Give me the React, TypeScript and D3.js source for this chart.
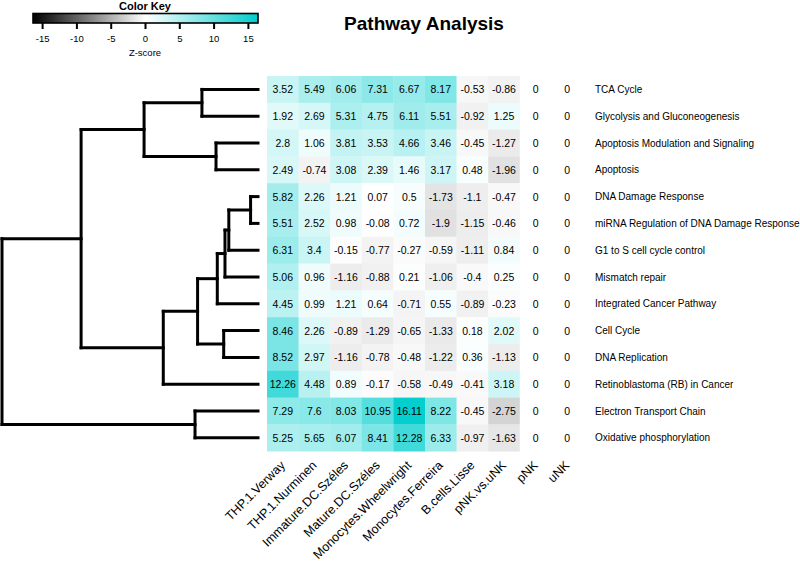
import React, { useEffect, useRef } from "react";
import * as d3 from "d3";

// pathways (rows, top to bottom as drawn)
const pathways = [
  "TCA Cycle",
  "Glycolysis and Gluconeogenesis",
  "Apoptosis Modulation and Signaling",
  "Apoptosis",
  "DNA Damage Response",
  "miRNA Regulation of DNA Damage Response",
  "G1 to S cell cycle control",
  "Mismatch repair",
  "Integrated Cancer Pathway",
  "Cell Cycle",
  "DNA Replication",
  "Retinoblastoma (RB) in Cancer",
  "Electron Transport Chain",
  "Oxidative phosphorylation",
];

// datasets (columns)
const datasets = [
  "THP.1.Verway",
  "THP.1.Nurminen",
  "Immature.DC.Széles",
  "Mature.DC.Széles",
  "Monocytes.Wheelwright",
  "Monocytes.Ferreira",
  "B.cells.Lisse",
  "pNK.vs.uNK",
  "pNK",
  "uNK",
];

// z-scores, one array per pathway
const tcaCycle = [3.52, 5.49, 6.06, 7.31, 6.67, 8.17, -0.53, -0.86, 0, 0];
const glycolysis = [1.92, 2.69, 5.31, 4.75, 6.11, 5.51, -0.92, 1.25, 0, 0];
const apoptosisModulation = [2.8, 1.06, 3.81, 3.53, 4.66, 3.46, -0.45, -1.27, 0, 0];
const apoptosis = [2.49, -0.74, 3.08, 2.39, 1.46, 3.17, 0.48, -1.96, 0, 0];
const dnaDamage = [5.82, 2.26, 1.21, 0.07, 0.5, -1.73, -1.1, -0.47, 0, 0];
const mirnaDnaDamage = [5.51, 2.52, 0.98, -0.08, 0.72, -1.9, -1.15, -0.46, 0, 0];
const g1ToS = [6.31, 3.4, -0.15, -0.77, -0.27, -0.59, -1.11, 0.84, 0, 0];
const mismatchRepair = [5.06, 0.96, -1.16, -0.88, 0.21, -1.06, -0.4, 0.25, 0, 0];
const integratedCancer = [4.45, 0.99, 1.21, 0.64, -0.71, 0.55, -0.89, -0.23, 0, 0];
const cellCycle = [8.46, 2.26, -0.89, -1.29, -0.65, -1.33, 0.18, 2.02, 0, 0];
const dnaReplication = [8.52, 2.97, -1.16, -0.78, -0.48, -1.22, 0.36, -1.13, 0, 0];
const retinoblastoma = [12.26, 4.48, 0.89, -0.17, -0.58, -0.49, -0.41, 3.18, 0, 0];
const electronTransport = [7.29, 7.6, 8.03, 10.95, 16.11, 8.22, -0.45, -2.75, 0, 0];
const oxPhos = [5.25, 5.65, 6.07, 8.41, 12.28, 6.33, -0.97, -1.63, 0, 0];

const zscores = [
  tcaCycle, glycolysis, apoptosisModulation, apoptosis, dnaDamage, mirnaDnaDamage,
  g1ToS, mismatchRepair, integratedCancer, cellCycle, dnaReplication, retinoblastoma,
  electronTransport, oxPhos,
];

// color key ticks
const keyTicks = [-15, -10, -5, 0, 5, 10, 15];

// row dendrogram (merge heights, root = 100), leaves are row indices
const rowTree = {
  h: 100,
  children: [
    {
      h: 69.1,
      children: [
        {
          h: 44.5,
          children: [
            { h: 21.9, children: [{ row: 0 }, { row: 1 }] },
            { h: 16.4, children: [{ row: 2 }, { row: 3 }] },
          ],
        },
        {
          h: 37,
          children: [
            {
              h: 23.6,
              children: [
                {
                  h: 15.9,
                  children: [
                    {
                      h: 12.9,
                      children: [
                        {
                          h: 11.4,
                          children: [
                            { h: 2.9, children: [{ row: 4 }, { row: 5 }] },
                            { row: 6 },
                          ],
                        },
                        { row: 7 },
                      ],
                    },
                    { row: 8 },
                  ],
                },
                { h: 13.4, children: [{ row: 9 }, { row: 10 }] },
              ],
            },
            { row: 11 },
          ],
        },
      ],
    },
    { h: 24.6, children: [{ row: 12 }, { row: 13 }] },
  ],
};

const FONT = "'Liberation Sans', Arial, Helvetica, sans-serif";

export default function App() {
  const ref = useRef<SVGSVGElement>(null);

  useEffect(() => {
    const svg = d3.select(ref.current);
    svg.selectAll("*").remove();

    const heat = { left: 267, top: 76, cellW: 31.6, cellH: 26.8 };

    const x = d3
      .scaleBand()
      .domain(datasets)
      .range([heat.left, heat.left + heat.cellW * datasets.length]);
    const y = d3
      .scaleBand()
      .domain(pathways)
      .range([heat.top, heat.top + heat.cellH * pathways.length]);

    const color = d3
      .scaleLinear<string>()
      .domain([-16.4, 0, 16.4])
      .range(["#000000", "#ffffff", "#00cdcd"])
      .interpolate(d3.interpolateRgb);

    // Title
    svg
      .append("text")
      .attr("x", 424)
      .attr("y", 30)
      .attr("text-anchor", "middle")
      .style("font-family", FONT)
      .style("font-weight", "bold")
      .style("font-size", "19px")
      .text("Pathway Analysis");

    // Color key
    const key = svg.append("g");
    const keyX = d3.scaleLinear().domain([-16.4, 16.4]).range([33, 258]);
    const grad = svg
      .append("defs")
      .append("linearGradient")
      .attr("id", "keygrad")
      .attr("x1", "0%")
      .attr("x2", "100%");
    d3.range(0, 1.0001, 0.05).forEach(t => {
      grad
        .append("stop")
        .attr("offset", `${t * 100}%`)
        .attr("stop-color", color(-16.4 + t * 32.8));
    });
    key
      .append("text")
      .attr("x", 145)
      .attr("y", 10)
      .attr("text-anchor", "middle")
      .style("font-family", FONT)
      .style("font-weight", "bold")
      .style("font-size", "11px")
      .text("Color Key");
    key
      .append("rect")
      .attr("x", 33)
      .attr("y", 13.5)
      .attr("width", 225)
      .attr("height", 9.5)
      .attr("fill", "url(#keygrad)")
      .attr("stroke", "#000")
      .attr("stroke-width", 1.6);
    key
      .selectAll(".ktick")
      .data(keyTicks)
      .join("line")
      .attr("x1", d => keyX(d))
      .attr("x2", d => keyX(d))
      .attr("y1", 23)
      .attr("y2", 29)
      .attr("stroke", "#000")
      .attr("stroke-width", 2);
    key
      .selectAll(".klabel")
      .data(keyTicks)
      .join("text")
      .attr("x", d => keyX(d))
      .attr("y", 42)
      .attr("text-anchor", "middle")
      .style("font-family", FONT)
      .style("font-size", "9.5px")
      .text(d => d);
    key
      .append("text")
      .attr("x", 145)
      .attr("y", 56)
      .attr("text-anchor", "middle")
      .style("font-family", FONT)
      .style("font-size", "9.5px")
      .text("Z-score");

    // Heatmap cells
    const cells = pathways.flatMap((p, i) =>
      datasets.map((d, j) => ({ p, d, v: zscores[i][j] }))
    );
    const g = svg.append("g");
    g.selectAll("rect")
      .data(cells)
      .join("rect")
      .attr("x", c => x(c.d)!)
      .attr("y", c => y(c.p)!)
      .attr("width", x.bandwidth() + 0.3)
      .attr("height", y.bandwidth() + 0.3)
      .attr("fill", c => color(c.v));
    g.selectAll("text")
      .data(cells)
      .join("text")
      .attr("x", c => x(c.d)! + x.bandwidth() / 2)
      .attr("y", c => y(c.p)! + y.bandwidth() / 2 + 4)
      .attr("text-anchor", "middle")
      .style("font-family", FONT)
      .style("font-size", "10.5px")
      .text(c => c.v);

    // Row labels
    svg
      .selectAll(".rowlab")
      .data(pathways)
      .join("text")
      .attr("x", 595)
      .attr("y", d => y(d)! + y.bandwidth() / 2 + 3.5)
      .style("font-family", FONT)
      .style("font-size", "10px")
      .text(d => d);

    // Column labels (rotated)
    svg
      .selectAll(".collab")
      .data(datasets)
      .join("text")
      .attr("text-anchor", "end")
      .attr("transform", d => `translate(${x(d)! + x.bandwidth() / 2 + 3},${466}) rotate(-45)`)
      .style("font-family", FONT)
      .style("font-size", "12.5px")
      .text(d => d);

    // Row dendrogram
    const root = d3.hierarchy<any>(rowTree);
    const hx = d3.scaleLinear().domain([0, 100]).range([258, 2]);
    root.eachAfter((n: any) => {
      if (!n.children) {
        n.py = y(pathways[n.data.row])! + y.bandwidth() / 2;
        n.px = hx(0);
      } else {
        n.py = d3.mean(n.children, (c: any) => c.py);
        n.px = hx(n.data.h);
      }
    });
    const segs: [number, number, number, number][] = [];
    root.each((n: any) => {
      if (!n.children) return;
      const [a, b] = n.children;
      segs.push([n.px, a.py, n.px, b.py]);
      n.children.forEach((c: any) => segs.push([n.px, c.py, c.px, c.py]));
    });
    svg
      .append("g")
      .selectAll("line")
      .data(segs)
      .join("line")
      .attr("x1", s => s[0])
      .attr("y1", s => s[1])
      .attr("x2", s => s[2])
      .attr("y2", s => s[3])
      .attr("stroke", "#000")
      .attr("stroke-width", 3)
      .attr("stroke-linecap", "square");
  }, []);

  return (
    <svg
      ref={ref}
      width={800}
      height={566}
      style={{ position: "absolute", left: 0, top: 0, background: "#fff" }}
    />
  );
}
